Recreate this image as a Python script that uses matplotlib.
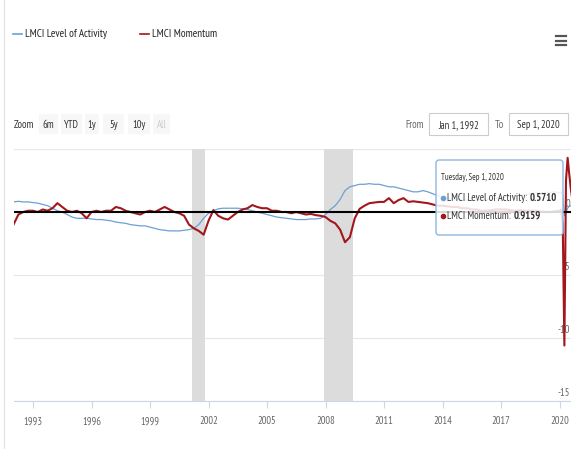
import numpy as np
import matplotlib
matplotlib.use("Agg")
import matplotlib.pyplot as plt
from matplotlib.patches import FancyBboxPatch, Rectangle
from matplotlib.transforms import IdentityTransform
from matplotlib.lines import Line2D

plt.rcParams['font.family'] = ['PT Sans Narrow', 'DejaVu Sans']

# ---- data -------------------------------------------------------------
# quarterly readings 1992Q1 .. 2019Q4 (four per year)
level_quarterly = [
    0.80, 0.85, 0.80, 0.80,    # 1992
    0.75, 0.70, 0.60, 0.50,    # 1993
    0.30, 0.10, 0.00, -0.20,   # 1994
    -0.40, -0.50, -0.50, -0.50,  # 1995
    -0.55, -0.60, -0.60, -0.65,  # 1996
    -0.70, -0.80, -0.85, -0.90,  # 1997
    -1.00, -1.05, -1.10, -1.10,  # 1998
    -1.20, -1.30, -1.40, -1.45,  # 1999
    -1.50, -1.50, -1.50, -1.45,  # 2000
    -1.40, -1.30, -1.00, -0.50,  # 2001
    -0.10, 0.10, 0.25, 0.30,   # 2002
    0.30, 0.30, 0.30, 0.25,    # 2003
    0.20, 0.10, 0.00, -0.10,   # 2004
    -0.20, -0.30, -0.40, -0.45,  # 2005
    -0.50, -0.55, -0.60, -0.60,  # 2006
    -0.60, -0.55, -0.55, -0.50,  # 2007
    -0.20, 0.20, 0.50, 1.00,   # 2008
    1.70, 2.00, 2.10, 2.20,    # 2009
    2.20, 2.25, 2.20, 2.20,    # 2010
    2.10, 2.00, 2.00, 1.90,    # 2011
    1.80, 1.70, 1.60, 1.60,    # 2012
    1.70, 1.60, 1.45, 1.30,    # 2013
    1.20, 1.10, 1.00, 1.00,    # 2014
    0.95, 0.95, 0.90, 0.95,    # 2015
    1.00, 1.00, 1.05, 1.10,    # 2016
    1.15, 1.20, 1.25, 1.30,    # 2017
    1.35, 1.40, 1.45, 1.50,    # 2018
    1.50, 1.55, 1.55, 1.60,    # 2019
]
momentum_quarterly = [
    -1.00, -0.20, 0.00, 0.10,  # 1992
    0.10, 0.00, 0.20, 0.10,    # 1993
    0.30, 0.70, 0.40, 0.10,    # 1994
    0.00, 0.10, -0.10, -0.50,  # 1995
    0.00, 0.10, 0.00, 0.10,    # 1996
    0.10, 0.40, 0.30, 0.10,    # 1997
    0.00, -0.10, -0.20, 0.00,  # 1998
    0.10, 0.00, 0.20, 0.40,    # 1999
    0.20, 0.00, -0.10, -0.30,  # 2000
    -1.00, -1.30, -1.50, -1.80,  # 2001
    -0.70, 0.15, -0.30, -0.50,  # 2002
    -0.60, -0.30, 0.00, 0.20,  # 2003
    0.30, 0.55, 0.40, 0.30,    # 2004
    0.30, 0.10, 0.10, 0.00,    # 2005
    0.00, -0.10, 0.00, -0.10,  # 2006
    -0.20, -0.15, -0.25, -0.30,  # 2007
    -0.40, -0.70, -0.90, -1.40,  # 2008
    -2.40, -2.00, -0.50, 0.25,  # 2009
    0.50, 0.70, 0.75, 0.80,    # 2010
    0.80, 1.10, 0.70, 0.95,    # 2011
    1.10, 0.80, 0.85, 0.80,    # 2012
    0.75, 0.70, 0.60, 0.50,    # 2013
    0.50, 0.45, 0.40, 0.40,    # 2014
    0.30, 0.30, 0.20, 0.20,    # 2015
    0.10, 0.10, 0.15, 0.20,    # 2016
    0.20, 0.20, 0.15, 0.10,    # 2017
    0.15, 0.10, 0.10, 0.10,    # 2018
    0.05, 0.00, 0.00, 0.05,    # 2019
]
# monthly readings Jan .. Sep 2020
level_2020 = [1.50, 1.60, 1.30, -0.30, 0.00, 0.30, 0.45, 0.50, 0.5710]
momentum_2020 = [0.10, 0.20, -1.00, -10.60, 2.50, 4.30, 3.00, 1.80, 0.9159]

recessions = [(2001 + 2 / 12, 2001 + 10 / 12), (2007 + 11 / 12, 2009 + 5 / 12)]
year_ticks = [1993, 1996, 1999, 2002, 2005, 2008, 2011, 2014, 2017, 2020]
y_labels = [-15, -10, -5, 0]
zoom_buttons = ["6m", "YTD", "1y", "5y", "10y", "All"]
series_names = ["LMCI Level of Activity", "LMCI Momentum"]

# ---- time axis ----------------------------------------------------------
q_dates = np.array([y + q * 0.25 for y in range(1992, 2020) for q in range(4)])
m_dates = np.array([2020 + m / 12 for m in range(9)])
dates = np.concatenate([q_dates, m_dates])
level = np.concatenate([level_quarterly, level_2020])
momentum = np.concatenate([momentum_quarterly, momentum_2020])

W, H = 571, 449
BLUE = "#6d9fd6"
RED = "#a3161c"
GREY_TXT = "#666666"
FS = 7.6

fig = plt.figure(figsize=(W / 100, H / 100), dpi=100)
fig.patch.set_facecolor("white")


def fx(x):
    return x / W


def fy(y):
    return 1 - y / H


# plot area: Jan 1992 at px 13.5, Sep 2020 at px 572.5; 5 at px 149, -15 at px 401
left_px, right_px, top_px, bot_px = 13.5, 572.5, 149, 401
ax = fig.add_axes([fx(left_px), fy(bot_px), (right_px - left_px) / W, (bot_px - top_px) / H])
ax.set_xlim(1992.0, 2020 + 8 / 12)
ax.set_ylim(-15, 5)
ax.set_facecolor("none")
for s in ["top", "right", "left"]:
    ax.spines[s].set_visible(False)
ax.spines["bottom"].set_color("#ccd6eb")
ax.spines["bottom"].set_linewidth(0.8)

for g in [-15, -10, -5, 5]:
    ax.axhline(g, color="#e6e6e6", lw=0.8, zorder=0)

for a, b in recessions:
    ax.axvspan(a, b, color="#dcdcdc", lw=0, zorder=0.5)

ax.plot(dates, level, color=BLUE, lw=0.9, zorder=2)
ax.plot(dates, momentum, color=RED, lw=1.5, zorder=3)
ax.axhline(0, color="black", lw=1.5, zorder=4)

ax.set_yticks([])
ax.set_xticks(year_ticks)
ax.set_xticklabels([str(y) for y in year_ticks], fontsize=FS, color=GREY_TXT)
ax.tick_params(axis="x", length=5, width=0.8, color="#ccd6eb", pad=6)

# y labels sit inside the plot, just above their grid lines, within the figure edge
for v in y_labels:
    ax.annotate(str(v), xy=(1.0, v), xycoords=("axes fraction", "data"),
                xytext=(-1.8, 2), textcoords="offset points",
                ha="right", va="bottom", fontsize=FS, color=GREY_TXT, zorder=1)

# ---- container border ---------------------------------------------------
fig.add_artist(Line2D([fx(4), fx(4)], [0, 1], color="#e0e0e0", lw=0.8))

# ---- legend ---------------------------------------------------------------
fig.add_artist(Line2D([fx(13), fx(22)], [fy(34), fy(34)], color=BLUE, lw=1.2))
fig.text(fx(25), fy(34), series_names[0], fontsize=FS + 0.3, color="#222222",
         ha="left", va="center")
fig.add_artist(Line2D([fx(140), fx(149)], [fy(34), fy(34)], color=RED, lw=1.2))
fig.text(fx(152), fy(34), series_names[1], fontsize=FS + 0.3, color="#222222",
         ha="left", va="center")

# menu icon
for yy in [36, 40.5, 45]:
    fig.add_artist(Line2D([fx(556), fx(566)], [fy(yy), fy(yy)], color="#555555", lw=1.6))

# ---- range selector -------------------------------------------------------
fig.text(fx(14), fy(125), "Zoom", fontsize=FS, color="#333333", ha="left", va="center")
btn_x = [(39, 58), (61, 82), (85, 99), (103, 124), (128, 150), (153, 170)]
for (x0, x1), lab in zip(btn_x, zoom_buttons):
    fig.add_artist(Rectangle((x0, H - 134), x1 - x0, 20, transform=IdentityTransform(),
                             facecolor="#f7f7f7", edgecolor="none"))
    fig.text(fx((x0 + x1) / 2), fy(125), lab, fontsize=FS,
             color="#cccccc" if lab == "All" else "#333333", ha="center", va="center")

fig.text(fx(405), fy(125), "From", fontsize=FS, color=GREY_TXT, ha="left", va="center")
fig.text(fx(495), fy(125), "To", fontsize=FS, color=GREY_TXT, ha="left", va="center")
for (x0, x1), lab in [((429, 488), "Jan 1, 1992"), ((509, 568), "Sep 1, 2020")]:
    fig.add_artist(Rectangle((x0, H - 135), x1 - x0, 22, transform=IdentityTransform(),
                             facecolor="white", edgecolor="#cccccc", lw=0.8))
    fig.text(fx((x0 + x1) / 2), fy(125), lab, fontsize=FS, color="#333333",
             ha="center", va="center")

# ---- tooltip --------------------------------------------------------------
tip = FancyBboxPatch((436, H - 235), 127, 75, transform=IdentityTransform(),
                     boxstyle="round,pad=0,rounding_size=3",
                     facecolor=(1, 1, 1, 0.85), edgecolor="#8fb6e0", lw=1.0, zorder=10)
fig.add_artist(tip)
fig.text(fx(441), fy(178), "Tuesday, Sep 1, 2020", fontsize=6.2, color="#333333",
         ha="left", va="center", zorder=11)
rows = [(198, BLUE, series_names[0], level[-1]), (216, RED, series_names[1], momentum[-1])]
for yy, col, name, val in rows:
    fig.add_artist(Line2D([fx(443)], [fy(yy)], marker="o", ms=3, color=col, zorder=11))
    t = fig.text(fx(447), fy(yy), name + ": ", fontsize=7.6, color="#333333",
                 ha="left", va="center", zorder=11)
    fig.add_artist(plt.Annotation(f"{val:.4f}", xy=(1, 0.5), xycoords=t, va="center",
                                  ha="left", fontsize=7.6, weight="bold", color="#333333",
                                  zorder=11))

fig.savefig("out.png", dpi=100, facecolor="white")
